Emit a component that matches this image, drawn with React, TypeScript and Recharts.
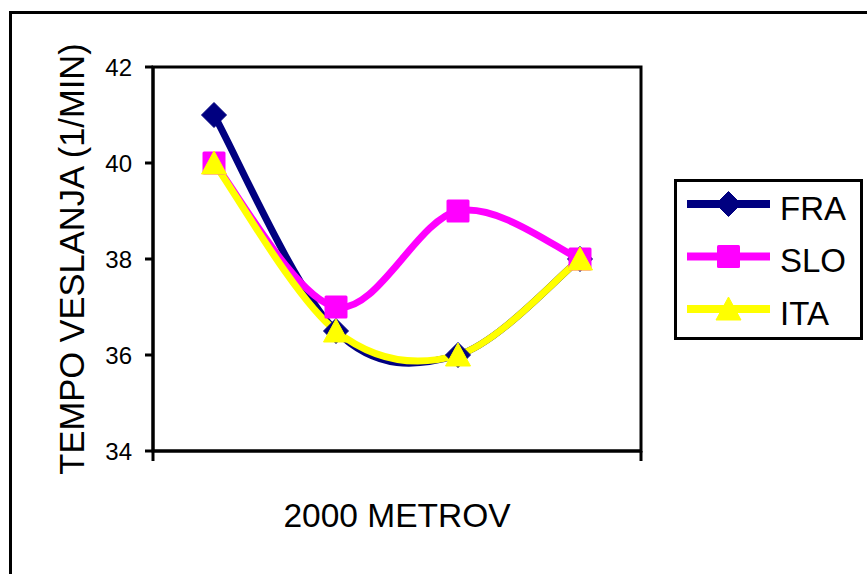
import React from 'react';
import { LineChart, Line, XAxis, YAxis, ReferenceArea } from 'recharts';

// Split points along the 2000 m course
const categories = ['500 m', '1000 m', '1500 m', '2000 m'];
const fraValues = [41, 36.5, 36, 38];
const sloValues = [40, 37, 39, 38];
const itaValues = [40, 36.5, 36, 38];
const yTicks = [34, 36, 38, 40, 42];
const seriesNames = ['FRA', 'SLO', 'ITA'];

// Each category sits in the middle of its own slot on a 0..N axis
const data = categories.map((cat, i) => ({
  cat,
  slot: i + 0.5,
  FRA: fraValues[i],
  SLO: sloValues[i],
  ITA: itaValues[i],
}));
const slotCount = categories.length;

type Shape = 'diamond' | 'square' | 'triangle';
const seriesStyle: Record<string, { color: string; shape: Shape }> = {
  FRA: { color: '#000080', shape: 'diamond' },
  SLO: { color: '#FF00FF', shape: 'square' },
  ITA: { color: '#FFFF00', shape: 'triangle' },
};

const FONT = '"Liberation Sans", Arial, sans-serif';

function marker(shape: Shape, cx: number, cy: number, color: string, key?: string) {
  if (shape === 'diamond') {
    const r = 12.5;
    return (
      <path
        key={key}
        d={`M${cx},${cy - r}L${cx + r},${cy}L${cx},${cy + r}L${cx - r},${cy}Z`}
        fill={color}
        stroke={color}
        strokeWidth={1}
        strokeLinejoin="round"
      />
    );
  }
  if (shape === 'square') {
    const h = 11.5;
    return (
      <rect key={key} x={cx - h} y={cy - h} width={2 * h} height={2 * h} rx={1.5} fill={color} />
    );
  }
  const w = 12.5;
  return (
    <path
      key={key}
      d={`M${cx},${cy - 12}L${cx + w},${cy + 11}L${cx - w},${cy + 11}Z`}
      fill={color}
      stroke={color}
      strokeWidth={1}
      strokeLinejoin="round"
    />
  );
}

// Catmull-Rom style smoothing (spreadsheet "smoothed line")
const smoothCurve = (context: any) => {
  let pts: number[][] = [];
  return {
    areaStart() {},
    areaEnd() {},
    lineStart() {
      pts = [];
    },
    point(x: number, y: number) {
      pts.push([+x, +y]);
    },
    lineEnd() {
      const n = pts.length;
      if (!n) return;
      context.moveTo(pts[0][0], pts[0][1]);
      for (let i = 0; i < n - 1; i++) {
        const p0 = pts[Math.max(i - 1, 0)];
        const p1 = pts[i];
        const p2 = pts[i + 1];
        const p3 = pts[Math.min(i + 2, n - 1)];
        context.bezierCurveTo(
          p1[0] + (p2[0] - p0[0]) / 6,
          p1[1] + (p2[1] - p0[1]) / 6,
          p2[0] - (p3[0] - p1[0]) / 6,
          p2[1] - (p3[1] - p1[1]) / 6,
          p2[0],
          p2[1]
        );
      }
    },
  };
};

function LegendBox() {
  return (
    <div
      style={{
        position: 'absolute',
        left: 674,
        top: 179,
        width: 189,
        height: 161,
        boxSizing: 'border-box',
        border: '3px solid #000',
        background: '#fff',
      }}
    >
      <svg width={183} height={155} style={{ display: 'block' }}>
        {seriesNames.map((name, i) => {
          const { color, shape } = seriesStyle[name];
          const cy = 22 + i * 52.5;
          return (
            <g key={name}>
              <line x1={10} x2={93} y1={cy} y2={cy} stroke={color} strokeWidth={8} />
              {marker(shape, 51.5, cy, color)}
              <text x={103} y={cy + 15.5} fontSize={33} fontFamily={FONT} fill="#000">
                {name}
              </text>
            </g>
          );
        })}
      </svg>
    </div>
  );
}

export default function App() {
  return (
    <div
      style={{
        position: 'absolute',
        left: 0,
        top: 0,
        width: 867,
        height: 574,
        overflow: 'hidden',
        background: '#fff',
        fontFamily: FONT,
      }}
    >
      <div
        style={{
          position: 'absolute',
          left: 9,
          top: 11,
          width: 1000,
          height: 1000,
          border: '3px solid #000',
        }}
      />
      <div style={{ position: 'absolute', left: 0, top: 0 }}>
        <LineChart
          width={867}
          height={574}
          data={data}
          margin={{ top: 67, right: 226, bottom: 0, left: 0 }}
          style={{ fontFamily: FONT }}
        >
          <XAxis
            dataKey="slot"
            type="number"
            domain={[0, slotCount]}
            ticks={[0, slotCount]}
            height={123}
            tickSize={10}
            tickLine={{ stroke: '#000', strokeWidth: 3 }}
            axisLine={{ stroke: '#000', strokeWidth: 3 }}
            tickFormatter={() => ''}
            label={{
              value: '2000 METROV',
              position: 'insideTop',
              offset: 52,
              fill: '#000',
              fontSize: 33.5,
              fontFamily: FONT,
            }}
          />
          <YAxis
            type="number"
            domain={[34, 42]}
            ticks={yTicks}
            width={153}
            tickSize={8}
            tickMargin={13}
            tick={{ fill: '#000', fontSize: 24, fontFamily: FONT }}
            tickLine={{ stroke: '#000', strokeWidth: 3 }}
            axisLine={{ stroke: '#000', strokeWidth: 3 }}
            label={{
              value: 'TEMPO VESLANJA (1/MIN)',
              angle: -90,
              position: 'insideLeft',
              offset: 72,
              fill: '#000',
              fontSize: 34.5,
              fontFamily: FONT,
              style: { textAnchor: 'middle' },
            }}
          />
          <ReferenceArea
            x1={0}
            x2={slotCount}
            y1={34}
            y2={42}
            fill="none"
            fillOpacity={0}
            stroke="#000"
            strokeWidth={3}
            ifOverflow="visible"
          />
          {seriesNames.map((name) => {
            const { color, shape } = seriesStyle[name];
            return (
              <Line
                key={name}
                dataKey={name}
                type={smoothCurve as any}
                stroke={color}
                strokeWidth={7}
                strokeLinejoin="round"
                dot={(p: any) => marker(shape, p.cx, p.cy, color, `${name}-${p.index}`)}
                activeDot={false}
                isAnimationActive={false}
                legendType="none"
              />
            );
          })}
        </LineChart>
      </div>
      <LegendBox />
    </div>
  );
}
